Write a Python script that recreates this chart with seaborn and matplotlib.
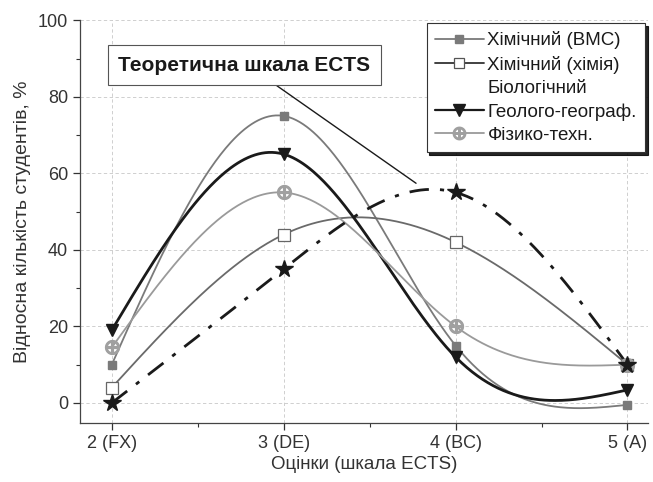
import numpy as np
import matplotlib
matplotlib.use('Agg')
import matplotlib.pyplot as plt
from matplotlib.lines import Line2D
from matplotlib.ticker import MultipleLocator
import seaborn as sns

grades = [2, 3, 4, 5]
grade_labels = ['2 (FX)', '3 (DE)', '4 (BC)', '5 (A)']

chem_vms = [10, 75, 15, -0.5]
chem_chem = [4, 44, 42, 10]
geo = [19, 65, 12, 3.4]
phys = [14.5, 55, 20, 10]
ects_theory = [0, 35, 55, 10]


def spline(x, y, n=300):
    # natural cubic spline, like Origin's "spline" connection
    x = np.asarray(x, float)
    y = np.asarray(y, float)
    m = len(x)
    h = np.diff(x)
    A = np.zeros((m, m))
    b = np.zeros(m)
    A[0, 0] = A[-1, -1] = 1
    for i in range(1, m - 1):
        A[i, i - 1] = h[i - 1]
        A[i, i] = 2 * (h[i - 1] + h[i])
        A[i, i + 1] = h[i]
        b[i] = 6 * ((y[i + 1] - y[i]) / h[i] - (y[i] - y[i - 1]) / h[i - 1])
    M = np.linalg.solve(A, b)
    xs = np.linspace(x[0], x[-1], n)
    k = np.clip(np.searchsorted(x, xs) - 1, 0, m - 2)
    hk = h[k]
    t1 = x[k + 1] - xs
    t0 = xs - x[k]
    ys = (M[k] * t1 ** 3 + M[k + 1] * t0 ** 3) / (6 * hk) \
        + (y[k] / hk - M[k] * hk / 6) * t1 \
        + (y[k + 1] / hk - M[k + 1] * hk / 6) * t0
    return xs, ys


sns.set_style('ticks')
plt.rcParams['font.family'] = ['Liberation Sans', 'DejaVu Sans']

fig = plt.figure(figsize=(6.53, 4.82), dpi=100)
ax = fig.add_axes([0.1225, 0.122, 0.87, 0.836])

series = [
    (chem_vms, dict(color='#7a7a7a', lw=1.3, ls='-'),
     dict(marker='s', ms=6, mfc='#7a7a7a', mec='#7a7a7a')),
    (chem_chem, dict(color='#6a6a6a', lw=1.3, ls='-'),
     dict(marker='s', ms=8, mfc='white', mec='#666666', mew=0.9)),
    (geo, dict(color='#1a1a1a', lw=2.0, ls='-'),
     dict(marker='v', ms=9, mfc='#1a1a1a', mec='#1a1a1a')),
    (phys, dict(color='#9a9a9a', lw=1.3, ls='-'),
     dict(marker=r'$\oplus$', ms=10, mfc='#a0a0a0', mec='#a0a0a0')),
    (ects_theory, dict(color='#1a1a1a', lw=2.0, ls=(0, (7, 4, 1.5, 4))),
     dict(marker='*', ms=13, mfc='#1a1a1a', mec='#1a1a1a')),
]

for vals, lstyle, mstyle in series:
    xs, ys = spline(grades, vals)
    sns.lineplot(x=xs, y=ys, ax=ax, color=lstyle['color'],
                 linewidth=lstyle['lw'], linestyle=lstyle['ls'],
                 sort=False, estimator=None)
    ax.plot(grades, vals, ls='none', zorder=4, **mstyle)

ax.set_xlim(1.815, 5.12)
ax.set_ylim(-5.3, 100)
ax.set_xticks(grades)
ax.set_xticklabels(grade_labels)
ax.xaxis.set_minor_locator(MultipleLocator(0.5))
ax.yaxis.set_major_locator(MultipleLocator(20))
ax.yaxis.set_minor_locator(MultipleLocator(10))
ax.tick_params(which='major', length=5, width=0.9, labelsize=13, color='#333333',
               labelcolor='#333333')
ax.tick_params(which='minor', length=3, width=0.8, color='#333333')
ax.grid(which='major', ls=(0, (4, 3)), lw=0.6, color='#c8c8c8')
for s in ax.spines.values():
    s.set_color('#444444')
    s.set_linewidth(0.9)
ax.spines['top'].set_visible(False)
ax.spines['right'].set_visible(False)

ax.set_xlabel('Оцінки (шкала ECTS)', fontsize=13.5, color='#333333', labelpad=3)
ax.set_ylabel('Відносна кількість студентів, %', fontsize=14, color='#333333',
              labelpad=5)

ax.text(2.77, 88.3, 'Теоретична шкала ECTS', fontsize=15, fontweight='bold',
        color='#1a1a1a', ha='center', va='center',
        bbox=dict(boxstyle='square,pad=0.5', fc='white', ec='#555555', lw=0.8))
ax.plot([2.96, 3.77], [82.9, 57.4], color='#1a1a1a', lw=1.0)

handles = [
    Line2D([], [], color='#7a7a7a', lw=1.3, marker='s', ms=6,
           mfc='#7a7a7a', mec='#7a7a7a'),
    Line2D([], [], color='#333333', lw=1.3, marker='s', ms=7,
           mfc='white', mec='#555555', mew=0.9),
    Line2D([], [], color='none'),
    Line2D([], [], color='#1a1a1a', lw=1.6, marker='v', ms=8,
           mfc='#1a1a1a', mec='#1a1a1a'),
    Line2D([], [], color='#9a9a9a', lw=1.3, marker=r'$\oplus$', ms=9,
           mfc='#a0a0a0', mec='#a0a0a0'),
]
labels = ['Хімічний (ВМС)', 'Хімічний (хімія)', 'Біологічний',
          'Геолого-географ.', 'Фізико-техн.']
leg = ax.legend(handles, labels, loc='upper right', fontsize=13.5,
                frameon=True, fancybox=False, edgecolor='#333333',
                shadow={'color': 'black', 'alpha': 0.85},
                borderaxespad=0.15, handlelength=2.6, handletextpad=0.2,
                labelspacing=0.33, borderpad=0.45)
leg.get_frame().set_linewidth(0.8)
for t in leg.get_texts():
    t.set_color('#1a1a1a')

fig.savefig('out.png', dpi=100)
